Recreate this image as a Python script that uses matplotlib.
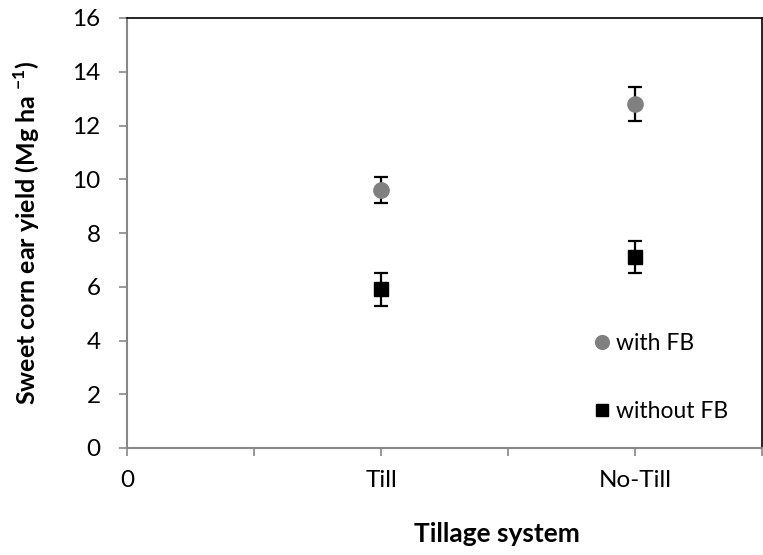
import matplotlib
matplotlib.use('Agg')
import matplotlib.pyplot as plt

plt.rcParams['font.family'] = ['Lato', 'DejaVu Sans']
plt.rcParams['mathtext.fontset'] = 'custom'
plt.rcParams['mathtext.rm'] = 'Lato:bold'

# yields (Mg/ha) by tillage system
tillage = ['Till', 'No-Till']
x_pos = [1, 2]
with_fb = [9.6, 12.8]
with_fb_err = [0.48, 0.65]
without_fb = [5.9, 7.1]
without_fb_err = [0.6, 0.6]

tick_pos = [0, 0.5, 1, 1.5, 2, 2.5]
tick_labels = ['0', '', 'Till', '', 'No-Till', '']

fig = plt.figure(figsize=(7.63, 5.55), dpi=100)
ax = fig.add_axes([127 / 763, 107 / 555, 635 / 763, 430 / 555])

ax.errorbar(x_pos, with_fb, yerr=with_fb_err, fmt='o', color='#808080', ms=11,
            ecolor='black', elinewidth=1.6, capsize=5, capthick=1.6, label='with FB', zorder=3)
ax.errorbar(x_pos, without_fb, yerr=without_fb_err, fmt='s', color='black', ms=10,
            ecolor='black', elinewidth=1.6, capsize=5, capthick=1.6, label='without FB', zorder=3)

ax.set_xlim(0, 2.5)
ax.set_ylim(0, 16)
ax.set_xticks(tick_pos)
ax.set_xticklabels(tick_labels)
ax.set_yticks(range(0, 17, 2))
ax.tick_params(axis='both', labelsize=17.5, color='#888888', length=6, width=1.2)
ax.tick_params(axis='y', pad=13)
ax.tick_params(axis='x', pad=10)

for side in ['left', 'bottom']:
    ax.spines[side].set_color('#888888')
    ax.spines[side].set_linewidth(1.5)
for side in ['top', 'right']:
    ax.spines[side].set_color('black')
    ax.spines[side].set_linewidth(1.2)

ax.set_xlabel('Tillage system', fontsize=19, fontweight='bold')
ax.xaxis.set_label_coords(0.583, -0.172)
ax.set_ylabel('Sweet corn ear yield (Mg ha $^{-1}$)', fontsize=18, fontweight='bold')
ax.yaxis.set_label_coords(-0.134, 0.5)

handles, labels = ax.get_legend_handles_labels()
handles = [h[0] for h in handles]
ax.legend(handles, labels, loc='upper left', bbox_to_anchor=(0.705, 0.315), frameon=False,
          fontsize=16.5, labelspacing=2.05, handlelength=0.6, handletextpad=0.3, markerscale=0.9)

fig.savefig('out.png', dpi=100)
